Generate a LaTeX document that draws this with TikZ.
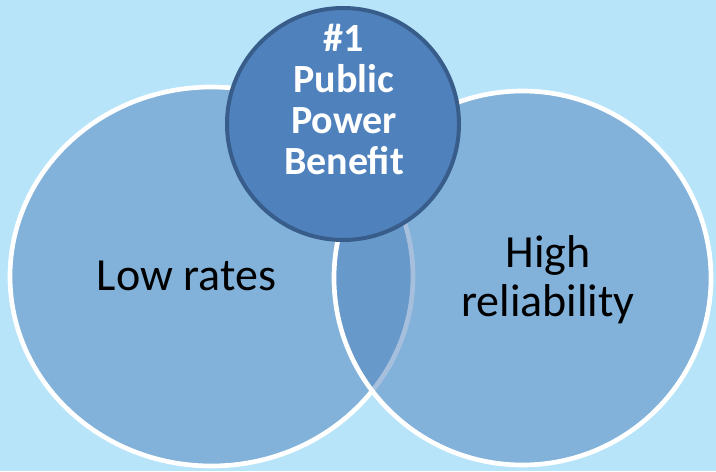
\documentclass[tikz,border=0pt]{standalone}
\usepackage{fontspec}
\setmainfont{Carlito}
\usetikzlibrary{shapes.geometric}
\definecolor{skyback}{RGB}{183,228,249}
\definecolor{vennblue}{RGB}{79,129,189}
\definecolor{vennedge}{RGB}{56,93,138}

\begin{document}
\begin{tikzpicture}[x=0.75pt,y=-0.75pt,venn/.style={shape=ellipse,draw=white,line width=3.5pt,fill=vennblue,fill opacity=0.5,inner sep=0pt},hub/.style={shape=circle,draw=vennedge,line width=3pt,fill=vennblue,inner sep=0pt,minimum size=174pt},lbl/.style={align=center,inner sep=0pt,font=\fontsize{34.5}{36.75}\selectfont},hubl/.style={lbl,text=white,font=\fontsize{30}{30.75}\selectfont\bfseries}]
\useasboundingbox (0,0) rectangle (716,471);
\fill[skyback] (0,0) rectangle (716,471);

% the two overlapping sets
\node[venn,minimum width=302.25pt,minimum height=284.25pt] (rates) at (211.5,276.5) {};
\node[venn,minimum width=282.75pt,minimum height=280.5pt] (reliab) at (522.5,278) {};

% the hub on top
\node[hub] (benefit) at (343,124) {};

\node[lbl] (ratesl) at (186.5,276) {Low rates};
\node[lbl] (reliabl) at (548,280) {High\\reliability};
\node[hubl] (benefitl) at (344,99) {\#1\\Public\\Power\\Benefit};
\end{tikzpicture}
\end{document}
